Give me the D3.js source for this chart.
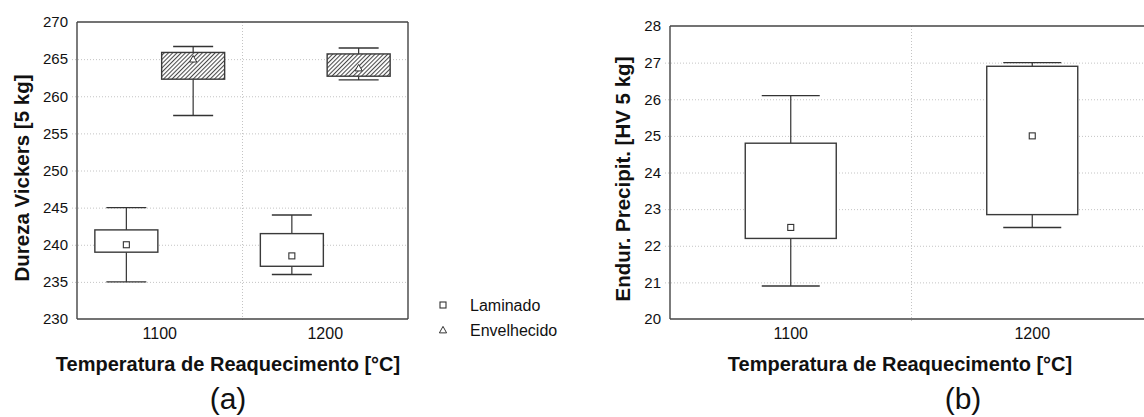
<!DOCTYPE html>
<html>
<head>
<meta charset="utf-8">
<script src="https://cdn.jsdelivr.net/npm/d3@7"></script>
<style>
  html, body { margin: 0; padding: 0; background: #fff; }
  svg { display: block; font-family: "Liberation Sans", Arial, sans-serif; }
</style>
</head>
<body>
<svg id="chart" width="1144" height="417"></svg>
<script>
// ---------- data ----------
const categories = ["1100", "1200"];
const series = ["Laminado", "Envelhecido"];

// Panel (a): Dureza Vickers
const lamMin  = [235.0, 236.0];
const lamQ1   = [239.0, 237.1];
const lamMean = [240.0, 238.5];
const lamQ3   = [242.0, 241.5];
const lamMax  = [245.0, 244.0];

const envMin  = [257.4, 262.2];
const envQ1   = [262.3, 262.7];
const envMean = [265.0, 263.8];
const envQ3   = [265.9, 265.7];
const envMax  = [266.7, 266.5];

const yTicksA = [230, 235, 240, 245, 250, 255, 260, 265, 270];

// Panel (b): Endurecimento por precipitação
const epMin  = [20.9, 22.5];
const epQ1   = [22.2, 22.85];
const epMean = [22.5, 25.0];
const epQ3   = [24.8, 26.9];
const epMax  = [26.1, 27.0];

const yTicksB = [20, 21, 22, 23, 24, 25, 26, 27, 28];

const yTitleA = "Dureza Vickers [5 kg]";
const yTitleB = "Endur. Precipit. [HV 5 kg]";
const xTitle = "Temperatura de Reaquecimento [°C]";

// ---------- drawing ----------
const svg = d3.select("#chart");
const FRAME = "#444";
const GRID = "#c4c4c4";

const defs = svg.append("defs");
const pat = defs.append("pattern")
  .attr("id", "hatch")
  .attr("patternUnits", "userSpaceOnUse")
  .attr("width", 3).attr("height", 3)
  .attr("patternTransform", "rotate(45)");
pat.append("rect").attr("width", 3).attr("height", 3).attr("fill", "#fff");
pat.append("line").attr("x1", 0.5).attr("y1", 0).attr("x2", 0.5).attr("y2", 3)
  .attr("stroke", "#4a4a4a").attr("stroke-width", 1.1);

function buildRows(mins, q1s, means, q3s, maxs, group) {
  return categories.map((c, i) => ({
    cat: c, group, min: mins[i], q1: q1s[i], mean: means[i], q3: q3s[i], max: maxs[i]
  }));
}

function panel(opt) {
  const g = svg.append("g");
  const x = d3.scaleBand().domain(categories).range([opt.x0, opt.x1]).padding(0);
  const y = d3.scaleLinear().domain(opt.domain).range([opt.y1, opt.y0]);
  const sub = d3.scalePoint().domain(opt.groups).range(opt.subRange);

  // horizontal grid + tick labels
  const ax = d3.axisLeft(y).tickValues(opt.ticks).tickSizeInner(-(opt.x1 - opt.x0)).tickSizeOuter(0).tickPadding(9);
  const ga = g.append("g").attr("transform", `translate(${opt.x0},0)`).call(ax);
  ga.select(".domain").remove();
  ga.selectAll(".tick line")
    .attr("x1", -5)
    .attr("stroke", GRID).attr("stroke-dasharray", "1,2")
    .attr("display", d => (d === opt.domain[0] || d === opt.domain[1]) ? "none" : null);
  ga.selectAll(".tick text")
    .attr("fill", "#111").style("font-size", "15px")
    .style("font-family", "'Liberation Sans', Arial, sans-serif");

  // vertical divider grid
  const divX = opt.x0 + x.step();
  g.append("line")
    .attr("x1", divX).attr("x2", divX).attr("y1", opt.y0).attr("y2", opt.y1 + 3)
    .attr("stroke", GRID).attr("stroke-dasharray", "1,2");

  // x labels
  const bx = d3.axisBottom(x).tickSize(0).tickPadding(0);
  const gb = g.append("g").attr("transform", `translate(0,${opt.y1})`).call(bx);
  gb.select(".domain").remove();
  gb.selectAll(".tick text")
    .attr("y", 20).attr("dy", 0)
    .attr("fill", "#111").style("font-size", "16px")
    .style("font-family", "'Liberation Sans', Arial, sans-serif");

  // boxes
  opt.data.forEach(rows => {
    rows.forEach(d => {
      const cx = x(d.cat) + x.bandwidth() / 2 + sub(d.group);
      const bw = opt.boxW, cw = opt.capW;
      const bg = g.append("g");
      // whiskers
      bg.append("line").attr("x1", cx).attr("x2", cx).attr("y1", y(d.max)).attr("y2", y(d.q3))
        .attr("stroke", "#333").attr("stroke-width", 1.2);
      bg.append("line").attr("x1", cx).attr("x2", cx).attr("y1", y(d.q1)).attr("y2", y(d.min))
        .attr("stroke", "#333").attr("stroke-width", 1.2);
      bg.append("line").attr("x1", cx - cw / 2).attr("x2", cx + cw / 2).attr("y1", y(d.max)).attr("y2", y(d.max))
        .attr("stroke", "#333").attr("stroke-width", 1.4);
      bg.append("line").attr("x1", cx - cw / 2).attr("x2", cx + cw / 2).attr("y1", y(d.min)).attr("y2", y(d.min))
        .attr("stroke", "#333").attr("stroke-width", 1.4);
      // box
      bg.append("rect")
        .attr("x", cx - bw / 2).attr("width", bw)
        .attr("y", y(d.q3)).attr("height", y(d.q1) - y(d.q3))
        .attr("fill", d.group === "Envelhecido" ? "url(#hatch)" : "#fff")
        .attr("stroke", "#3a3a3a").attr("stroke-width", 1.4);
      // mean marker
      drawMarker(bg, d.group, cx, y(d.mean));
    });
  });

  // frame
  const fr = g.append("g").attr("fill", "none").attr("stroke", FRAME).attr("stroke-width", 1.4);
  fr.append("line").attr("x1", opt.x0).attr("x2", opt.x1).attr("y1", opt.y0).attr("y2", opt.y0);
  fr.append("line").attr("x1", opt.x0).attr("x2", opt.x1).attr("y1", opt.y1).attr("y2", opt.y1);
  fr.append("line").attr("x1", opt.x0).attr("x2", opt.x0).attr("y1", opt.y0).attr("y2", opt.y1);
  fr.append("line").attr("x1", opt.x1).attr("x2", opt.x1).attr("y1", opt.y0).attr("y2", opt.y1);

  // titles
  g.append("text")
    .attr("transform", `translate(${opt.yTitleX},${opt.yTitleY}) rotate(-90)`)
    .attr("text-anchor", "middle")
    .style("font-size", "20.5px").style("font-weight", "bold").attr("fill", "#111")
    .text(opt.yTitle);
  g.append("text")
    .attr("x", opt.xTitleX).attr("y", 371)
    .attr("text-anchor", "middle")
    .style("font-size", "20px").style("font-weight", "bold").attr("fill", "#111")
    .text(xTitle);
  g.append("text")
    .attr("x", opt.labelX).attr("y", 409)
    .attr("text-anchor", "middle")
    .style("font-size", "30px").attr("fill", "#111")
    .text(opt.label);
}

function drawMarker(sel, group, cx, cy) {
  if (group === "Envelhecido") {
    const s = 3.6;
    sel.append("path")
      .attr("d", `M${cx},${cy - s} L${cx + s},${cy + s * 0.8} L${cx - s},${cy + s * 0.8} Z`)
      .attr("fill", "#fff").attr("stroke", "#333").attr("stroke-width", 1);
  } else {
    sel.append("rect")
      .attr("x", cx - 3).attr("y", cy - 3).attr("width", 6).attr("height", 6)
      .attr("fill", "#fff").attr("stroke", "#333").attr("stroke-width", 1.1);
  }
}

panel({
  x0: 77, x1: 408, y0: 22, y1: 319,
  domain: [230, 270], ticks: yTicksA,
  groups: series, subRange: [-33.4, 33.4],
  boxW: 63, capW: 40,
  data: [
    buildRows(lamMin, lamQ1, lamMean, lamQ3, lamMax, "Laminado"),
    buildRows(envMin, envQ1, envMean, envQ3, envMax, "Envelhecido")
  ],
  yTitle: yTitleA, yTitleX: 29, yTitleY: 178,
  xTitleX: 228, labelX: 228, label: "(a)"
});

panel({
  x0: 670, x1: 1153, y0: 26, y1: 319,
  domain: [20, 28], ticks: yTicksB,
  groups: ["Laminado"], subRange: [0, 0],
  boxW: 91, capW: 58,
  data: [buildRows(epMin, epQ1, epMean, epQ3, epMax, "Laminado")],
  yTitle: yTitleB, yTitleX: 630, yTitleY: 179,
  xTitleX: 900, labelX: 963, label: "(b)"
});

// legend
const leg = svg.append("g");
series.forEach((s, i) => {
  const ly = 305 + i * 25;
  drawMarker(leg, s, 443, ly);
  leg.append("text")
    .attr("x", 470).attr("y", ly + 6)
    .style("font-size", "16px").attr("fill", "#111")
    .text(s);
});
</script>
</body>
</html>
